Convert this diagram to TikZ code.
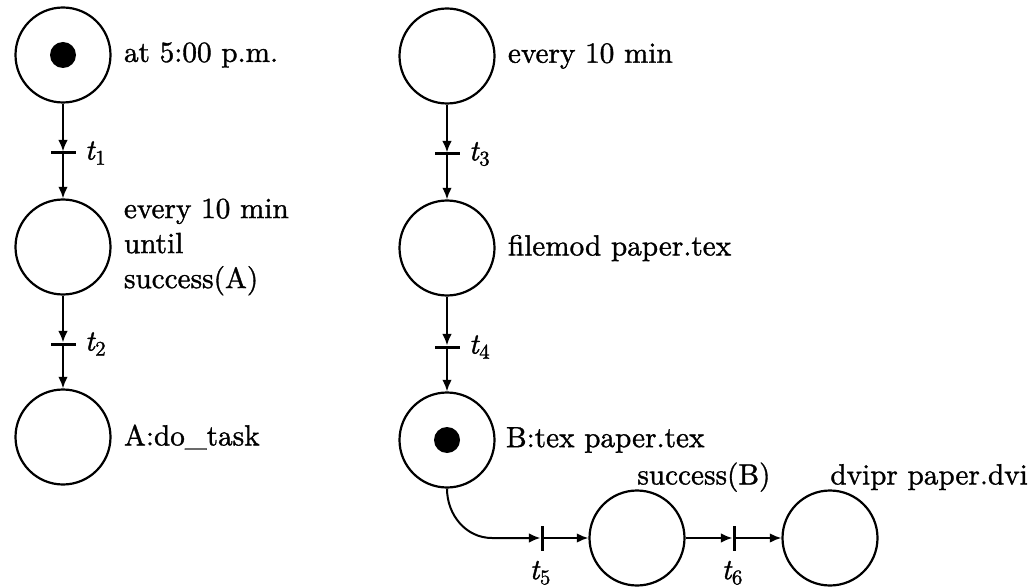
\documentclass[tikz,border=0pt]{standalone}
\usepackage{fontspec}
\usetikzlibrary{arrows.meta}
\newfontfamily\netfont{lmroman10-regular.otf}[FakeBold=1.2]
\newfontfamily\netit{lmroman10-italic.otf}[FakeBold=1.4]
% transition name: italic t with a lowered index
\newcommand\tlab[1]{{\netit t}\kern0.3pt\raisebox{-2.6pt}{\netfont\fontsize{10.5}{12}\selectfont #1}}
\begin{document}
\begin{tikzpicture}[x=0.5pt,y=-0.5pt,
  place/.style={circle,draw,line width=1.1pt,minimum size=47.5pt,inner sep=0pt},
  token/.style={circle,fill,minimum size=13pt,inner sep=0pt},
  hbar/.style={rectangle,fill,minimum width=12.5pt,minimum height=1.5pt,inner sep=0pt,outer sep=0pt},
  vbar/.style={rectangle,fill,minimum width=1.5pt,minimum height=12.5pt,inner sep=0pt,outer sep=0pt},
  lab/.style={font=\netfont\fontsize{14.6}{17.5}\selectfont,inner sep=0pt,align=left},
  arc/.style={line width=1pt,-{Latex[length=5.8pt,width=4.8pt]}},
]
\useasboundingbox (0,0) rectangle (1032,588);

% left net
\node[place] (p1) at (63,55) {};
\node[token] (k1) at (p1) {};
\node[hbar]  (t1) at (63,153) {};
\node[place] (p2) at (63,247) {};
\node[hbar]  (t2) at (63,344) {};
\node[place] (p3) at (63,437) {};

\node[lab,anchor=west] (l1) at ([xshift=6pt]p1.east) {at 5:00 p.m.};
\node[lab,anchor=west] (l2) at ([xshift=6pt]p2.east) {every 10 min\\until\\success(A)};
\node[lab,anchor=west] (l3) at ([xshift=6pt]p3.east) {A:do\_task};
\node[lab,anchor=west] (lt1) at ([xshift=4.5pt]t1.east) {\tlab{1}};
\node[lab,anchor=west] (lt2) at ([xshift=4.5pt]t2.east) {\tlab{2}};

\draw[arc] (p1) -- (t1);
\draw[arc] (t1) -- (p2);
\draw[arc] (p2) -- (t2);
\draw[arc] (t2) -- (p3);

% right net
\node[place] (q1) at (447,56) {};
\node[hbar]  (t3) at (447,154) {};
\node[place] (q2) at (447,248) {};
\node[hbar]  (t4) at (447,347) {};
\node[place] (q3) at (447,440) {};
\node[token] (k3) at (q3) {};
\node[vbar]  (t5) at (542,538) {};
\node[place] (q4) at (637,538) {};
\node[vbar]  (t6) at (734,538) {};
\node[place] (q5) at (830,538) {};
\coordinate (bend) at (492,538);

\node[lab,anchor=west] (m1) at ([xshift=6pt]q1.east) {every 10 min};
\node[lab,anchor=west] (m2) at ([xshift=6pt]q2.east) {filemod paper.tex};
\node[lab,anchor=west] (m3) at ([xshift=5pt]q3.east) {B:tex paper.tex};
\node[lab,anchor=base west] (m4) at ([yshift=2.5pt]q4.north) {success(B)};
\node[lab,anchor=base west] (m5) at ([yshift=2.5pt]q5.north) {dvipr paper.dvi};
\node[lab,anchor=west] (lt3) at ([xshift=4.5pt]t3.east) {\tlab{3}};
\node[lab,anchor=west] (lt4) at ([xshift=4.5pt]t4.east) {\tlab{4}};
\node[lab,anchor=north] (lt5) at ([xshift=-1pt,yshift=-5pt]t5.south) {\tlab{5}};
\node[lab,anchor=north] (lt6) at ([xshift=-1pt,yshift=-5pt]t6.south) {\tlab{6}};

\draw[arc] (q1) -- (t3);
\draw[arc] (t3) -- (q2);
\draw[arc] (q2) -- (t4);
\draw[arc] (t4) -- (q3);
\draw[arc] (q3.south) to[out=-90,in=180] (bend) -- (t5);
\draw[arc] (t5) -- (q4);
\draw[arc] (q4) -- (t6);
\draw[arc] (t6) -- (q5);
\end{tikzpicture}
\end{document}
